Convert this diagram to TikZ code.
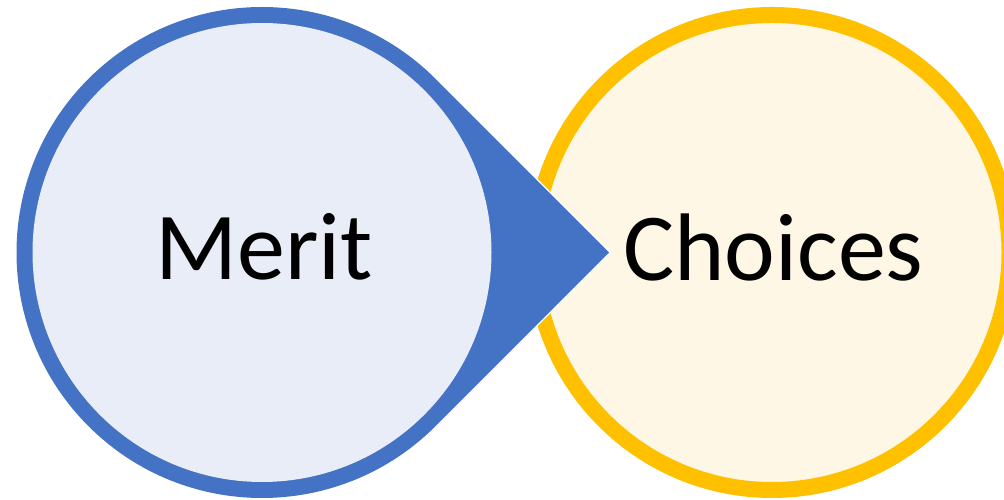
\documentclass[tikz,border=0pt]{standalone}
\usepackage{fontspec}
\setmainfont{Carlito}
\definecolor{bblue}{HTML}{4472C4}
\definecolor{lblue}{HTML}{E9EDF7}
\definecolor{byel}{HTML}{FFC000}
\definecolor{lyel}{HTML}{FFF7E5}
\tikzset{
  ring/.style={circle, inner sep=0pt, minimum size=475pt, line width=16pt},
  lbl/.style={anchor=base, inner sep=0pt, font=\fontsize{96}{100}\selectfont}
}
\begin{document}
\begin{tikzpicture}[x=1pt,y=1pt]
\useasboundingbox (0,0) rectangle (1004,500);
\clip (0,0) rectangle (1004,500);
% yellow circle
\node[ring, draw=byel, fill=lyel] (choicesc) at (772,247.5) {};
% blue teardrop
\coordinate (tip) at (609,247.5);
\coordinate (mc) at (262,247.5);
\draw[white, line width=3pt, line join=miter]
  (tip) -- ([shift={(45:245.5)}]mc) arc[start angle=45, end angle=315, radius=245.5] -- cycle;
\fill[bblue]
  (tip) -- ([shift={(45:245.5)}]mc) arc[start angle=45, end angle=315, radius=245.5] -- cycle;
\node[circle, inner sep=0pt, minimum size=459pt, fill=lblue] (meritc) at (mc) {};
% labels
\node[lbl] (merit) at (264,220) {Merit};
\node[lbl] (choices) at (773.5,219) {Choices};
\end{tikzpicture}
\end{document}
